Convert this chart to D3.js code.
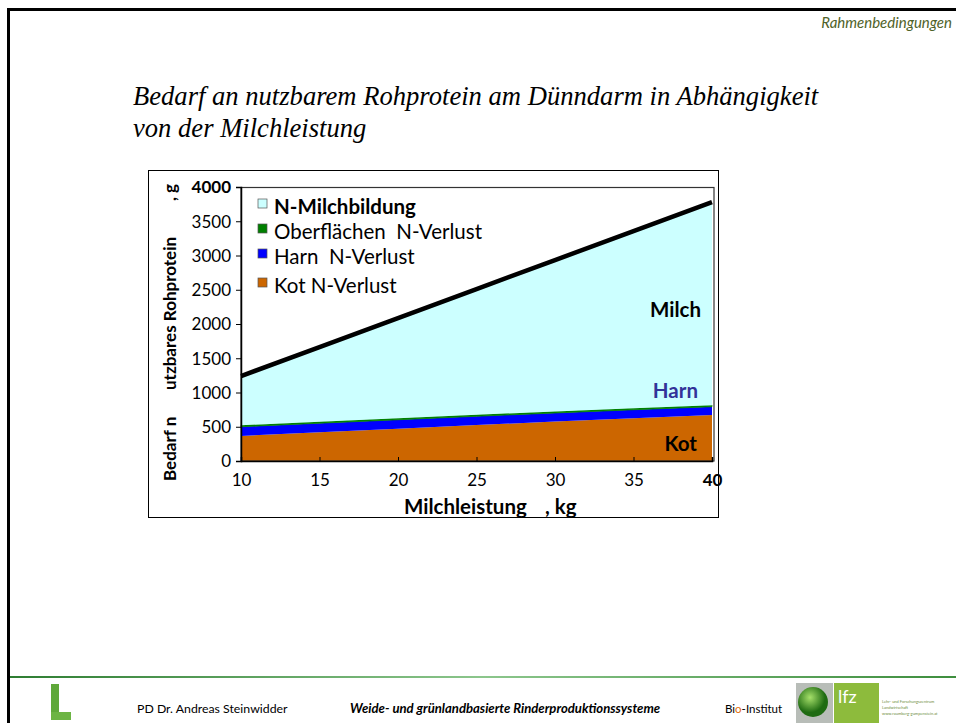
<!DOCTYPE html>
<html>
<head>
<meta charset="utf-8">
<script src="https://cdn.jsdelivr.net/npm/d3@7"></script>
<style>
  html, body { margin: 0; padding: 0; background: #fff; }
  svg { display: block; }
</style>
</head>
<body>
<svg id="slide" width="956" height="723"></svg>
<script>
// Milk yield (kg) and protein requirement components (g), stacked bottom to top
const milkYield = [10, 15, 20, 25, 30, 35, 40];
const kotN      = [365, 420, 472, 525, 575, 625, 672];
const harnN     = [135, 132, 130, 128, 126, 123, 121];
const oberN     = [22, 22, 22, 22, 22, 22, 22];
const milchN    = [718, 1089, 1463, 1835, 2210, 2587, 2965];

const seriesNames  = ["Kot N-Verlust", "Harn  N-Verlust", "Oberflächen  N-Verlust", "N-Milchbildung"];
const seriesColors = ["#CC6600", "#0000FF", "#008000", "#CCFFFF"];
const xTicks = [10, 15, 20, 25, 30, 35, 40];
const yTicks = [0, 500, 1000, 1500, 2000, 2500, 3000, 3500, 4000];

const svg = d3.select("#slide");
const sans = "Lato, 'Open Sans', sans-serif";

// ---- slide frame ----
svg.append("line").attr("x1", 8).attr("x2", 956).attr("y1", 9.5).attr("y2", 9.5)
  .attr("stroke", "#000").attr("stroke-width", 3);
svg.append("line").attr("x1", 8.5).attr("x2", 8.5).attr("y1", 8).attr("y2", 723)
  .attr("stroke", "#000").attr("stroke-width", 3);

svg.append("text").attr("x", 952).attr("y", 28).attr("text-anchor", "end")
  .attr("font-family", sans).attr("font-style", "italic").attr("font-size", 15)
  .attr("fill", "#4F6228").text("Rahmenbedingungen");

// ---- title ----
const title = svg.append("text").attr("font-family", "'Liberation Serif', 'Times New Roman', serif")
  .attr("font-style", "italic").attr("font-size", 26.6).attr("fill", "#000");
title.append("tspan").attr("x", 133).attr("y", 105).text("Bedarf an nutzbarem Rohprotein am Dünndarm in Abhängigkeit");
title.append("tspan").attr("x", 133).attr("y", 137).text("von der Milchleistung");

// ---- chart frame ----
svg.append("rect").attr("x", 148.5).attr("y", 170.5).attr("width", 570).attr("height", 347)
  .attr("fill", "#fff").attr("stroke", "#000").attr("stroke-width", 1);

const x = d3.scaleLinear().domain([10, 40]).range([241, 712]);
const y = d3.scaleLinear().domain([0, 4000]).range([461, 187]);

const rows = milkYield.map((m, i) => ({
  m, kot: kotN[i], harn: harnN[i], ober: oberN[i], milch: milchN[i]
}));
const stack = d3.stack().keys(["kot", "harn", "ober", "milch"]);
const layers = stack(rows);

const area = d3.area()
  .x(d => x(d.data.m))
  .y0(d => y(d[0]))
  .y1(d => y(d[1]));

svg.append("g").selectAll("path").data(layers).join("path")
  .attr("d", area)
  .attr("fill", (d, i) => seriesColors[i])
  .attr("stroke", (d, i) => i === 2 ? "#008000" : "none")
  .attr("stroke-width", 0.8);

// total requirement line on top of the stack
const topLine = d3.line().x(d => x(d.data.m)).y(d => y(d[1]));
svg.append("path").attr("d", topLine(layers[3]))
  .attr("fill", "none").attr("stroke", "#000").attr("stroke-width", 4.5);

// plot area border
svg.append("rect").attr("x", 241).attr("y", 187.5).attr("width", 473).attr("height", 273.5)
  .attr("fill", "none").attr("stroke", "#333").attr("stroke-width", 1.2);

// ---- axes ----
const yAxis = d3.axisLeft(y).tickValues(yTicks).tickSize(5).tickFormat(d3.format("d"));
const gy = svg.append("g").attr("transform", "translate(241,0)").call(yAxis);
gy.select(".domain").attr("stroke", "#000").attr("stroke-width", 1.5);
gy.selectAll(".tick line").attr("stroke", "#000");
gy.selectAll(".tick text").attr("x", -10).attr("dy", "0.35em")
  .attr("font-family", sans).attr("font-size", 17).attr("fill", "#000")
  .attr("font-weight", d => d === 4000 ? "bold" : "normal");

const xAxis = d3.axisBottom(x).tickValues(xTicks).tickSize(-4).tickFormat(d3.format("d"));
const gx = svg.append("g").attr("transform", "translate(0,461)").call(xAxis);
gx.select(".domain").attr("stroke", "#000").attr("stroke-width", 1.5);
gx.selectAll(".tick line").attr("stroke", "#000");
gx.selectAll(".tick text").attr("y", 13)
  .attr("font-family", sans).attr("font-size", 17).attr("fill", "#000")
  .attr("font-weight", d => d === 40 ? "bold" : "normal");

// axis titles
const yt = svg.append("g").attr("transform", "translate(176,0) rotate(-90)")
  .attr("font-family", sans).attr("font-weight", "bold").attr("font-size", 17).attr("fill", "#000");
yt.append("text").attr("x", -481).attr("y", 0).text("Bedarf n");
yt.append("text").attr("x", -390).attr("y", 0).text("utzbares Rohprotein");
yt.append("text").attr("x", -201).attr("y", 0).text(", g");

const xt = svg.append("g").attr("font-family", sans).attr("font-weight", "bold")
  .attr("font-size", 20.5).attr("fill", "#000");
xt.append("text").attr("x", 404).attr("y", 514).text("Milchleistung");
xt.append("text").attr("x", 545).attr("y", 514).text(", kg");

// in-chart labels
const lab = svg.append("g").attr("font-family", sans).attr("font-weight", "bold").attr("font-size", 20.5);
lab.append("text").attr("x", 701).attr("y", 317).attr("text-anchor", "end").attr("fill", "#000").text("Milch");
lab.append("text").attr("x", 698).attr("y", 398).attr("text-anchor", "end").attr("fill", "#333399").text("Harn");
lab.append("text").attr("x", 697).attr("y", 451).attr("text-anchor", "end").attr("fill", "#000").text("Kot");

// ---- legend (top entry is the top layer) ----
const legendItems = seriesNames.map((n, i) => ({ n, c: seriesColors[i], i })).reverse();
const legendY = [207, 232, 257, 286];
const lg = svg.append("g");
lg.selectAll("rect").data(legendItems).join("rect")
  .attr("x", 258).attr("y", (d, k) => legendY[k] - 8).attr("width", 9).attr("height", 9)
  .attr("fill", d => d.c).attr("stroke", "#555").attr("stroke-width", 0.7);
lg.selectAll("text").data(legendItems).join("text")
  .attr("x", 274).attr("y", (d, k) => legendY[k] + 7)
  .attr("font-family", sans).attr("font-size", 20.5)
  .attr("font-weight", (d, k) => k === 0 ? "bold" : "normal")
  .attr("fill", "#000")
  .style("white-space", "pre")
  .text(d => d.n);

// ---- footer ----
const grad = svg.append("defs").append("linearGradient").attr("id", "footLine")
  .attr("x1", "0%").attr("x2", "100%");
grad.append("stop").attr("offset", "0%").attr("stop-color", "#2E7D32");
grad.append("stop").attr("offset", "50%").attr("stop-color", "#8CC68C");
grad.append("stop").attr("offset", "100%").attr("stop-color", "#3E8E3E");
svg.append("rect").attr("x", 10).attr("y", 676).attr("width", 946).attr("height", 2).attr("fill", "url(#footLine)");

// L logo
const lgo = svg.append("g");
lgo.append("rect").attr("x", 51).attr("y", 684).attr("width", 8).attr("height", 36).attr("fill", "#5FA83A");
lgo.append("rect").attr("x", 51).attr("y", 712).attr("width", 20).attr("height", 8).attr("fill", "#6CB444");

svg.append("text").attr("x", 137).attr("y", 713).attr("font-family", sans).attr("font-size", 12.3)
  .attr("fill", "#000").text("PD Dr. Andreas Steinwidder");
svg.append("text").attr("x", 350).attr("y", 713).attr("font-family", sans).attr("font-size", 13.1)
  .attr("font-weight", "bold").attr("font-style", "italic")
  .attr("fill", "#000").text("Weide- und grünlandbasierte Rinderproduktionssysteme");
const bio = svg.append("text").attr("x", 725).attr("y", 713).attr("font-family", sans).attr("font-size", 11.5).attr("fill", "#000");
bio.append("tspan").text("Bi");
bio.append("tspan").attr("fill", "#E36C09").text("o");
bio.append("tspan").text("-Institut");

// LFZ logo
const rg = svg.select("defs").append("radialGradient").attr("id", "ball").attr("cx", "40%").attr("cy", "35%");
rg.append("stop").attr("offset", "0%").attr("stop-color", "#A6E06A");
rg.append("stop").attr("offset", "100%").attr("stop-color", "#1F6B12");
svg.append("rect").attr("x", 796).attr("y", 683).attr("width", 37).attr("height", 40).attr("fill", "#B8BDB8");
svg.append("circle").attr("cx", 813).attr("cy", 702).attr("r", 15).attr("fill", "url(#ball)");
svg.append("rect").attr("x", 834).attr("y", 683).attr("width", 45).attr("height", 40).attr("fill", "#8DBB3C");
svg.append("text").attr("x", 838).attr("y", 703).attr("font-family", sans).attr("font-size", 18)
  .attr("fill", "#fff").text("lfz");
const small = svg.append("g").attr("font-family", sans).attr("font-size", 4).attr("fill", "#6E8E3E");
small.append("text").attr("x", 882).attr("y", 703).text("Lehr- und Forschungszentrum");
small.append("text").attr("x", 882).attr("y", 709).text("Landwirtschaft");
small.append("text").attr("x", 882).attr("y", 715).text("www.raumberg-gumpenstein.at");
</script>
</body>
</html>
